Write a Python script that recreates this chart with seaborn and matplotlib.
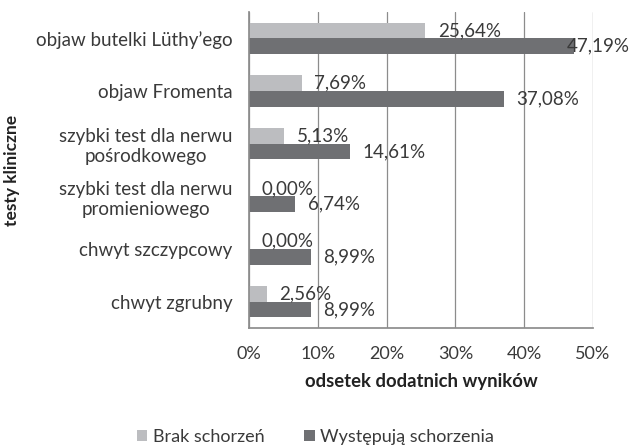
import matplotlib
matplotlib.use("Agg")
import matplotlib.pyplot as plt
import seaborn as sns
import pandas as pd

categories = ["objaw butelki Lüthy\u2019ego", "objaw Fromenta",
              "szybki test dla nerwu\npośrodkowego",
              "szybki test dla nerwu\npromieniowego",
              "chwyt szczypcowy", "chwyt zgrubny"]
series_names = ["Brak schorzeń", "Występują schorzenia"]
brak = [25.64, 7.69, 5.13, 0.00, 0.00, 2.56]
wystepuja = [47.19, 37.08, 14.61, 6.74, 8.99, 8.99]
xticks = [0, 10, 20, 30, 40, 50]
xtick_labels = ["0%", "10%", "20%", "30%", "40%", "50%"]

rows = []
for c, v in zip(categories, brak):
    rows.append({"kat": c, "seria": series_names[0], "val": v})
for c, v in zip(categories, wystepuja):
    rows.append({"kat": c, "seria": series_names[1], "val": v})
df = pd.DataFrame(rows)

sns.set_theme(style="white")
plt.rcParams['font.family'] = ['Lato', 'DejaVu Sans']

fig = plt.figure(figsize=(6.31, 4.48), dpi=100)
ax = fig.add_axes([249/631, 1-328/448, 344/631, 316/448])

colors = ["#BCBDC0", "#6F7073"]
sns.barplot(data=df, y="kat", x="val", hue="seria", orient="h",
            palette=colors, width=0.6, ax=ax, legend=True, saturation=1,
            edgecolor="none")

texts = []
for cont in ax.containers:
    labels = [f"{v:.2f}%".replace(".", ",") for v in cont.datavalues]
    texts += ax.bar_label(cont, labels=labels, padding=9, fontsize=13.5,
                          color="#3A3A3A")

ax.set_xlim(0, 50)
ax.set_xticks(xticks)
ax.set_xticklabels(xtick_labels, fontsize=13, color="#3A3A3A")
ax.tick_params(axis="x", length=0, pad=13)
ax.tick_params(axis="y", length=0, pad=12, labelsize=13.5, labelcolor="#3A3A3A")
for lab in ax.get_yticklabels():
    lab.set_multialignment("center")
ax.grid(axis="x", color="#8C8C8C", linewidth=0.9)
ax.set_axisbelow(True)
for s in ["top", "right"]:
    ax.spines[s].set_visible(False)
ax.spines["left"].set_color("#8C8C8C")
ax.spines["bottom"].set_color("#8C8C8C")

ax.set_xlabel("odsetek dodatnich wyników", fontsize=13.3, fontweight="bold",
              color="#222222", labelpad=8)
fig.text(12/631, 1-170/448, "testy kliniczne", rotation=90, fontsize=12.5,
         fontweight="bold", color="#222222", ha="center", va="center")
ax.set_ylabel("")

handles, labs = ax.get_legend_handles_labels()
ax.get_legend().remove()
fig.legend(handles, labs, loc="center", bbox_to_anchor=(0.5, 1-437/448),
           ncol=2, frameon=False, fontsize=13, handlelength=0.6,
           handleheight=0.6, handletextpad=0.3, columnspacing=2.2,
           labelcolor="#3A3A3A")

# keep labels inside the figure (Excel shifts overflowing labels inward)
fig.canvas.draw()
renderer = fig.canvas.get_renderer()
W = fig.bbox.width
for t in texts:
    bb = t.get_window_extent(renderer)
    if bb.x1 > W - 1:
        dx = bb.x1 - (W - 1)
        x, y = t.xyann
        t.xyann = (x - dx * 72 / fig.dpi, y)

fig.savefig("out.png", dpi=100)
